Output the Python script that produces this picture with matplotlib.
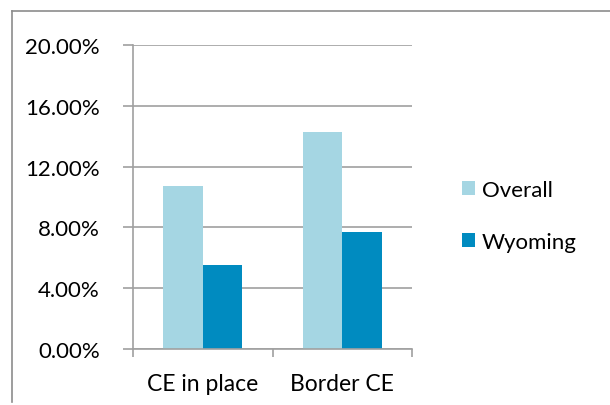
import matplotlib
matplotlib.use("Agg")
import matplotlib.pyplot as plt
from matplotlib.lines import Line2D
import numpy as np

categories = ["CE in place", "Border CE"]
series_names = ["Overall", "Wyoming"]
overall = [0.107, 0.143]
wyoming = [0.055, 0.077]
yticks = [0.0, 0.04, 0.08, 0.12, 0.16, 0.20]
ytick_labels = ["0.00%", "4.00%", "8.00%", "12.00%", "16.00%", "20.00%"]
colors = ["#A5D6E3", "#008BC0"]

plt.rcParams['font.family'] = ['Lato', 'DejaVu Sans']
fig = plt.figure(figsize=(6.1, 4.06), dpi=100)
ax = fig.add_axes([133/610, 1-350/406, (412-133)/610, (350-46)/406])

x = np.arange(len(categories))
w = 0.283
ax.bar(x - w/2, overall, w, color=colors[0], label=series_names[0])
ax.bar(x + w/2, wyoming, w, color=colors[1], label=series_names[1])

ax.set_xlim(-0.5, 1.5)
ax.set_ylim(0, 0.20)
ax.set_yticks(yticks)
ax.set_yticklabels(ytick_labels, fontsize=16)
ax.yaxis.grid(True, color="#A0A0A0", linewidth=1.2)
ax.set_axisbelow(True)
ax.set_xticks([-0.5, 0.5, 1.5])
ax.set_xticklabels([])
ax.set_xticks(x, minor=True)
ax.set_xticklabels(categories, minor=True, fontsize=16.5)
ax.tick_params(axis='x', which='minor', length=0, pad=17)
ax.tick_params(axis='x', which='major', length=6, color="#A0A0A0", width=1.2)
ax.tick_params(axis='y', length=7, color="#A0A0A0", width=1.2, pad=17)
for s in ["top", "right"]:
    ax.spines[s].set_visible(False)
for s in ["left", "bottom"]:
    ax.spines[s].set_color("#A0A0A0")
    ax.spines[s].set_linewidth(1.2)

leg = fig.legend(loc="upper left", bbox_to_anchor=(442/610, 1-161/406), frameon=False,
                 fontsize=16, handlelength=0.6, handleheight=0.6, handletextpad=0.3,
                 labelspacing=1.45)

fig.lines.append(Line2D([12/610, 1.0], [1-12/406, 1-12/406], transform=fig.transFigure,
                        color="#8C8C8C", linewidth=1.2))
fig.lines.append(Line2D([12/610, 12/610], [1-12/406, 1-403/406], transform=fig.transFigure,
                        color="#8C8C8C", linewidth=1.2))
fig.savefig("out.png", dpi=100)
